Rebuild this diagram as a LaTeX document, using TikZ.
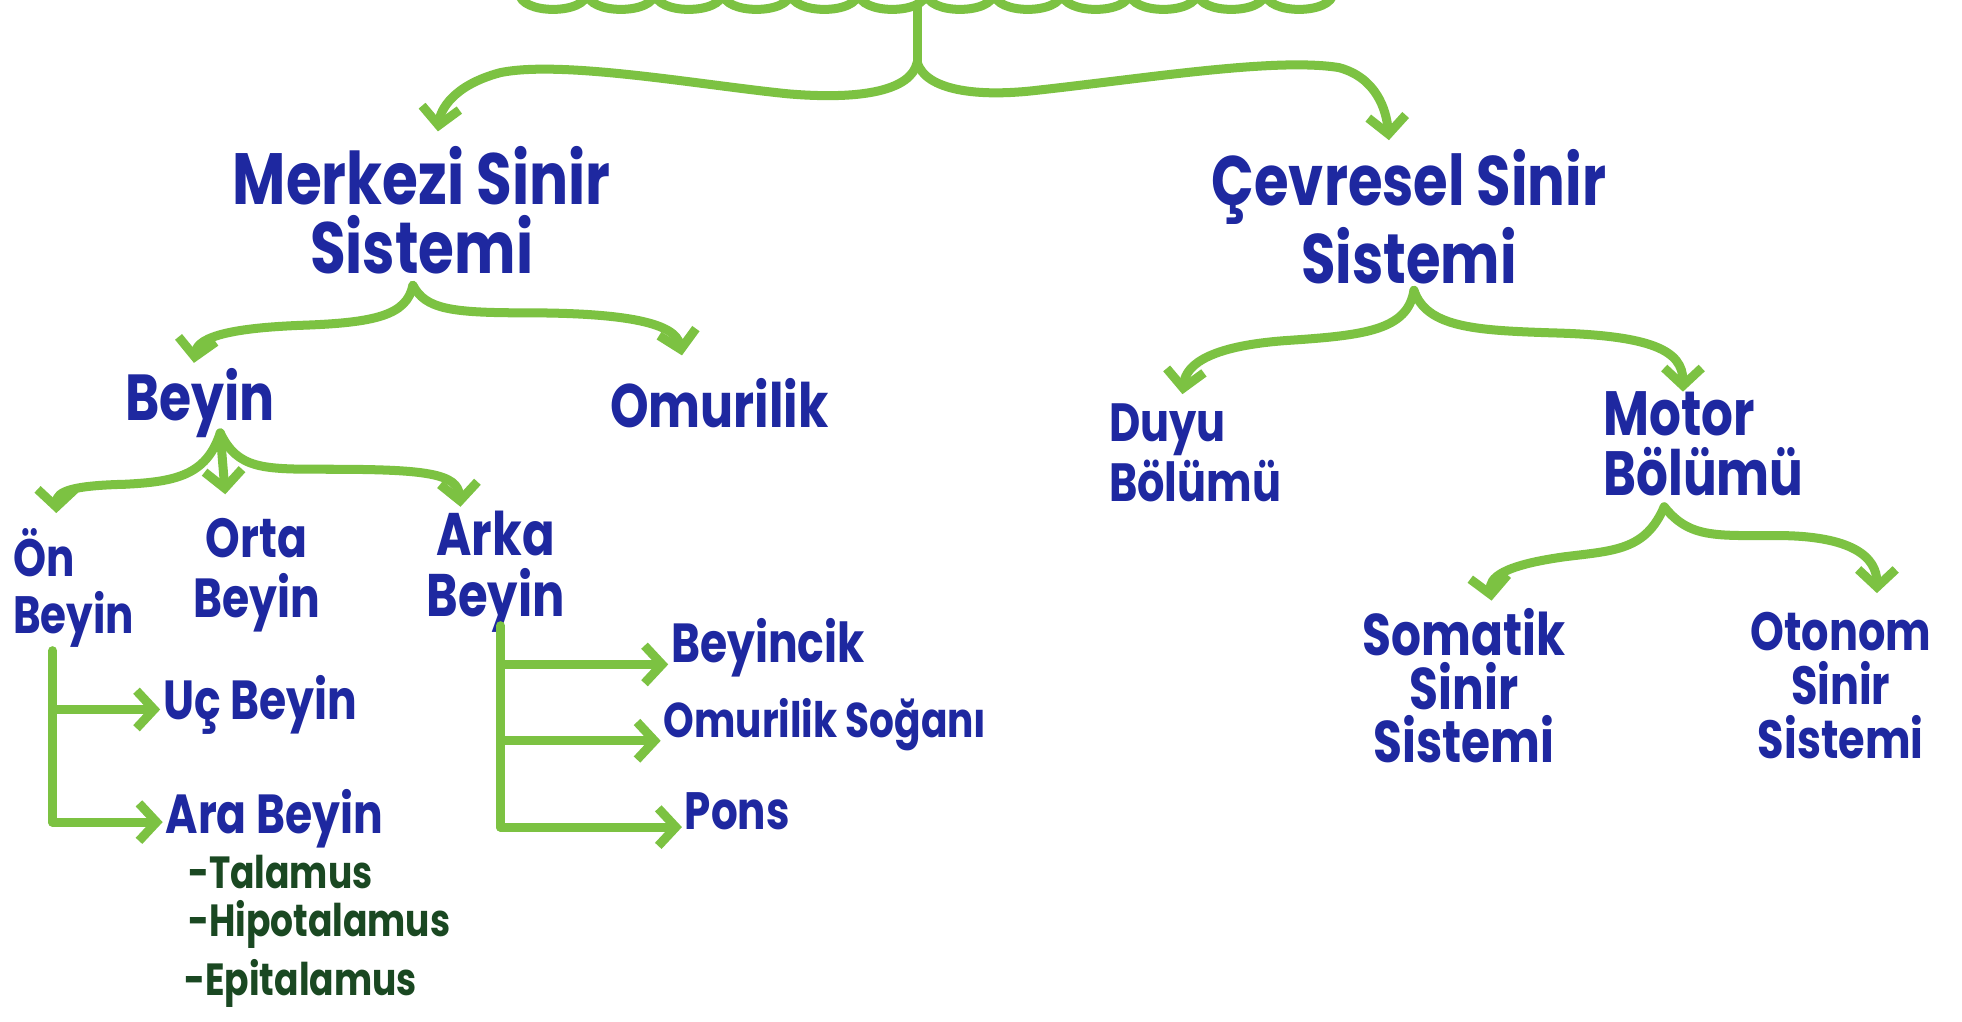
\documentclass[tikz,border=0pt]{standalone}
\usepackage{fontspec}
\setmainfont{Poppins}[FakeStretch=0.8]
\usetikzlibrary{arrows.meta}
\definecolor{markgreen}{RGB}{124,194,66}
\definecolor{markblue}{RGB}{30,40,160}
\definecolor{markdark}{RGB}{26,72,34}
\begin{document}
\begin{tikzpicture}[x={(0.5pt,0)},y={(0,-0.5pt)},
  fs/.style 2 args={font=\fontsize{#1}{#2}\selectfont\bfseries},
  lbl/.style={text=markblue, fs={23}{27}, align=center, inner sep=1pt},
  subitem/.style={text=markdark, fs={18}{22}, anchor=west, inner sep=1pt},
  link/.style={draw=markgreen, line width=3.6pt, line cap=round, line join=round},
  arr/.style={link, -{Straight Barb[length=7pt,width=15pt]}}]
\fill[white] (0,0) rectangle (1568,816);
\useasboundingbox (0,0) rectangle (1568,816);
% cloud edge
\begin{scope}
\clip (0,0) rectangle (1568,816);
\foreach \i in {0,...,11}{
  \draw[link] ({415+\i*54.2},-6) .. controls ({415+\i*54.2},12) and ({469+\i*54.2},12) .. ({469.2+\i*54.2},-6);
}
\end{scope}
% nodes
\coordinate (root) at (733,6);
\coordinate (split) at (733,50);
\node[lbl, fs={29}{27.5}] (mss) at (337,168) {Merkezi Sinir\\Sistemi};
\node[lbl, fs={28}{27.5}] (css) at (1126,173) {Çevresel Sinir\\Sistemi};
\node[lbl, fs={26}{28}] (beyin) at (160,322) {Beyin};
\node[lbl, fs={24.5}{28}] (omur) at (575,322) {Omurilik};
\node[lbl, fs={21}{23}, align=left, anchor=west] (on) at (8,470) {Ön\\Beyin};
\node[lbl, fs={22}{24}] (orta) at (205,460) {Orta\\Beyin};
\node[lbl, fs={24}{24.5}] (arka) at (396,457) {Arka\\Beyin};
\node[lbl, fs={22}{24}, anchor=west] (uc) at (128,563) {Uç Beyin};
\node[lbl, fs={22}{24}, anchor=west] (ara) at (130,654) {Ara Beyin};
\node[subitem] (tal) at (148,697) {-Talamus};
\node[subitem] (hip) at (148,739) {-Hipotalamus};
\node[subitem] (epi) at (145,786) {-Epitalamus};
\node[lbl, fs={22}{24}, anchor=west] (bcik) at (534,518) {Beyincik};
\node[lbl, fs={19.5}{22}, anchor=west] (sogan) at (528,579) {Omurilik Soğanı};
\node[lbl, fs={21}{24}, anchor=west] (pons) at (545,648) {Pons};
\node[lbl, fs={21.5}{24}, align=left, anchor=west] (duyu) at (884,362) {Duyu\\Bölümü};
\node[lbl, fs={25}{24}, align=left, anchor=west] (motor) at (1279,355) {Motor\\Bölümü};
\node[lbl, fs={23.5}{21.5}] (som) at (1170,548) {Somatik\\Sinir\\Sistemi};
\node[lbl, fs={21.5}{21.5}] (oto) at (1471,548) {Otonom\\Sinir\\Sistemi};
% connectors
\draw[link] (root) -- (split);
\draw[arr] (split) .. controls (728,72) and (690,80) .. (630,75) .. controls (560,68) and (450,48) .. (400,58) .. controls (362,68) and (352,88) .. (350,105);
\draw[arr] (split) .. controls (740,72) and (780,78) .. (830,72) .. controls (920,62) and (1020,46) .. (1070,54) .. controls (1100,62) and (1108,88) .. (1110,112);
\coordinate (msplit) at (330,228);
\draw[arr] (msplit) .. controls (325,252) and (300,258) .. (240,260) .. controls (190,262) and (158,268) .. (155,290);
\draw[arr] (msplit) .. controls (340,247) and (360,250) .. (420,250) .. controls (500,250) and (540,258) .. (545,284);
\coordinate (bsplit) at (176,346);
\draw[arr] (bsplit) .. controls (165,380) and (140,385) .. (100,387) .. controls (60,388) and (45,392) .. (45,410);
\draw[arr] (bsplit) -- (180,395);
\draw[arr] (bsplit) .. controls (190,375) and (210,375) .. (260,375) .. controls (340,375) and (366,378) .. (368,405);
\coordinate (ontop) at (42,520);
\coordinate (oncorner) at (42,657);
\coordinate (onmid) at (42,567);
\draw[link] (ontop) -- (oncorner);
\draw[arr] (oncorner) -- (oncorner -| ara.west);
\draw[arr] (onmid) -- (onmid -| uc.west);
\coordinate (arkatop) at (400,500);
\coordinate (arkacorner) at (400,661);
\coordinate (arkaa) at (400,531);
\coordinate (arkab) at (400,592);
\draw[link] (arkatop) -- (arkacorner);
\draw[arr] (arkacorner) -- (arkacorner -| pons.west);
\draw[arr] (arkaa) -- (arkaa -| bcik.west);
\draw[arr] (arkab) -- (arkab -| sogan.west);
\coordinate (csplit) at (1130,232);
\draw[arr] (csplit) .. controls (1125,264) and (1090,268) .. (1030,272) .. controls (970,276) and (948,290) .. (945,315);
\draw[arr] (csplit) .. controls (1140,262) and (1180,264) .. (1240,266) .. controls (1320,268) and (1345,280) .. (1345,313);
\coordinate (mosplit) at (1330,405);
\draw[arr] (mosplit) .. controls (1315,440) and (1290,440) .. (1250,445) .. controls (1200,452) and (1190,462) .. (1192,480);
\draw[arr] (mosplit) .. controls (1350,430) and (1370,428) .. (1420,428) .. controls (1480,428) and (1500,445) .. (1500,474);
\end{tikzpicture}
\end{document}
